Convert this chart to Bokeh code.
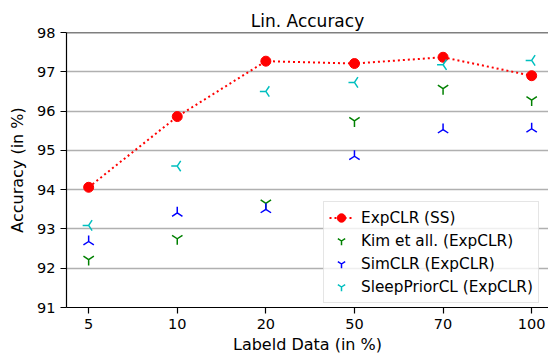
import math
from bokeh.plotting import figure
from bokeh.models import FixedTicker, Span, Legend, LegendItem, ColumnDataSource
from bokeh.embed import file_html
from bokeh.resources import INLINE

x_labels = ["5", "10", "20", "50", "70", "100"]
expclr_ss = [94.06, 95.86, 97.27, 97.21, 97.37, 96.90]
kim_expclr = [92.22, 92.75, 93.65, 95.75, 96.57, 96.28]
simclr_expclr = [92.68, 93.41, 93.50, 94.85, 95.53, 95.55]
sleepprior_expclr = [93.09, 94.60, 96.50, 96.73, 97.18, 97.29]
y_ticks = [91, 92, 93, 94, 95, 96, 97, 98]

FONT = "DejaVu Sans"
xs = list(range(len(x_labels)))

p = figure(width=548, height=358, output_backend="svg", toolbar_location=None,
           x_range=(-0.25, 5.19), y_range=(91, 98),
           min_border_left=66, min_border_right=0, min_border_top=32, min_border_bottom=51)
p.title.text = "Lin. Accuracy"
p.title.text_font = FONT
p.title.text_font_size = "17px"
p.title.text_font_style = "normal"
p.title.text_color = "black"
p.title.align = "center"
p.title.standoff = 4
p.outline_line_color = None

p.xgrid.visible = False
p.ygrid.grid_line_color = "#b0b0b0"
p.ygrid.grid_line_width = 1.5

for ax in (p.xaxis[0], p.yaxis[0]):
    ax.axis_line_color = "black"
    ax.axis_line_width = 1.2
    ax.major_tick_in = 0
    ax.major_tick_out = 6
    ax.major_tick_line_width = 1.2
    ax.minor_tick_line_color = None
    ax.major_label_standoff = 5
    ax.major_label_text_font = FONT
    ax.major_label_text_font_size = "14.5px"
    ax.major_label_text_color = "black"
    ax.axis_label_text_font = FONT
    ax.axis_label_text_font_size = "16px"
    ax.axis_label_text_font_style = "normal"
    ax.axis_label_text_color = "black"

p.xaxis.ticker = FixedTicker(ticks=xs)
p.xaxis.major_label_overrides = {i: l for i, l in enumerate(x_labels)}
p.xaxis.axis_label = "Labeld Data (in %)"
p.xaxis.axis_label_standoff = 3
p.yaxis.ticker = FixedTicker(ticks=y_ticks)
p.yaxis.axis_label = "Accuracy (in %)"
p.yaxis.axis_label_standoff = 7

p.add_layout(Span(location=98, dimension="width", line_color="black", line_width=1.5))

src = ColumnDataSource(dict(x=xs, ss=expclr_ss, kim=kim_expclr, sim=simclr_expclr, sleep=sleepprior_expclr))

l1 = p.line("x", "ss", source=src, line_color="#ff0000", line_width=2, line_dash="2 3")
c1 = p.scatter("x", "ss", source=src, marker="circle", size=10, fill_color="#ff0000", line_color="#ff0000")
k = p.scatter("x", "kim", source=src, marker="y", size=12, line_color="#008000", line_width=1.5)
s = p.scatter("x", "sim", source=src, marker="y", size=12, angle=math.pi, line_color="#0000ff", line_width=1.5)
sl = p.scatter("x", "sleep", source=src, marker="y", size=12, angle=-math.pi / 2, line_color="#00bfbf", line_width=1.5)

legend = Legend(items=[
    LegendItem(label="ExpCLR (SS)", renderers=[l1, c1]),
    LegendItem(label="Kim et all. (ExpCLR)", renderers=[k]),
    LegendItem(label="SimCLR (ExpCLR)", renderers=[s]),
    LegendItem(label="SleepPriorCL (ExpCLR)", renderers=[sl]),
], location=(257, 4))
legend.label_text_font = FONT
legend.label_text_font_size = "15.3px"
legend.label_text_color = "black"
legend.border_line_color = "#cccccc"
legend.background_fill_alpha = 0.8
legend.spacing = 2
legend.padding = 5
legend.label_height = 21
legend.glyph_height = 21
legend.glyph_width = 24
legend.label_standoff = 8
legend.margin = 0
p.add_layout(legend)

open("out.html", "w").write(file_html(p, INLINE))
